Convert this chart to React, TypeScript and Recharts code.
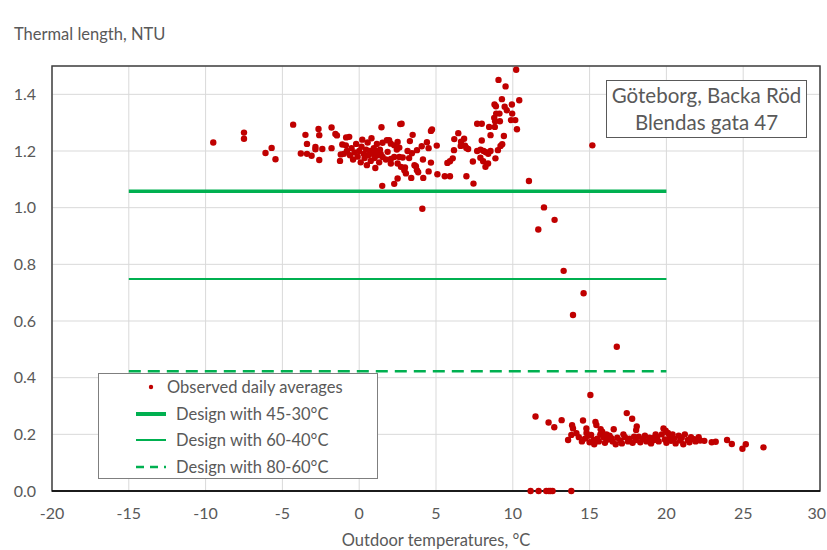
import {
  ComposedChart, Scatter, XAxis, YAxis, CartesianGrid, ReferenceArea, Legend,
} from 'recharts'

// observed daily averages: [outdoor temp °C, NTU]
const coldDays: [number, number][] = [
  [-9.5, 1.23], [-7.5, 1.265], [-7.5, 1.243], [-6.1, 1.193], [-5.7, 1.211], [-5.45, 1.171],
  [-4.3, 1.293], [-3.5, 1.257], [-3.4, 1.225], [-3.8, 1.191], [-3.4, 1.19], [-3.1, 1.183],
  [-2.65, 1.278], [-2.6, 1.256], [-2.85, 1.214], [-2.85, 1.206], [-2.4, 1.207], [-2.6, 1.168],
  [-1.8, 1.283], [-1.55, 1.26], [-1.45, 1.255], [-1.8, 1.21], [-1.2, 1.188], [-1.25, 1.165],
  [-0.85, 1.248], [-0.65, 1.25], [-1.1, 1.223], [-0.87, 1.22],
  [-1.0, 1.19], [-0.8, 1.2], [-0.6, 1.185], [-0.5, 1.21], [-0.4, 1.17], [-0.3, 1.195],
  [-0.2, 1.225], [-0.1, 1.18], [0.0, 1.2], [0.1, 1.16], [0.15, 1.215], [0.2, 1.24],
  [0.3, 1.19], [0.35, 1.175], [0.45, 1.205], [0.5, 1.15], [0.55, 1.23], [0.6, 1.185],
  [0.7, 1.2], [0.75, 1.165], [0.8, 1.245], [0.9, 1.19], [0.95, 1.21], [1.0, 1.175],
  [1.05, 1.14], [1.1, 1.2], [1.15, 1.225], [1.2, 1.185], [1.3, 1.16], [1.35, 1.205],
  [1.4, 1.19], [1.45, 1.284], [1.5, 1.077], [1.52, 1.229], [1.52, 1.179], [1.74, 1.17],
  [1.8, 1.238], [1.85, 1.197], [1.95, 1.238], [2.06, 1.226], [2.06, 1.172], [2.06, 1.156],
  [2.28, 1.22], [2.28, 1.179], [2.28, 1.084], [2.45, 1.205], [2.5, 1.232], [2.5, 1.156],
  [2.5, 1.103], [2.61, 1.212], [2.61, 1.179], [2.67, 1.295], [2.72, 1.144], [2.76, 1.296],
  [2.83, 1.177], [2.94, 1.132], [2.98, 1.142], [3.04, 1.121], [3.15, 1.2], [3.25, 1.175],
  [3.3, 1.235], [3.39, 1.105], [3.43, 1.192], [3.48, 1.257], [3.6, 1.15], [3.69, 1.146],
  [3.76, 1.203], [3.76, 1.132], [3.84, 1.125], [4.07, 1.217], [4.11, 0.996], [4.15, 1.17],
  [4.17, 1.105], [4.41, 1.231], [4.52, 1.21], [4.52, 1.128], [4.67, 1.271], [4.74, 1.276],
  [4.67, 1.159], [5.05, 1.219], [5.09, 1.118],
]

const mildDays: [number, number][] = [
  [5.57, 1.111], [5.91, 1.111], [5.74, 1.158], [5.91, 1.164], [6.09, 1.174], [6.17, 1.203],
  [6.19, 1.242], [6.45, 1.263], [6.63, 1.233], [6.83, 1.243], [6.89, 1.219], [6.98, 1.211],
  [7.09, 1.207], [6.61, 1.218], [6.98, 1.111], [7.4, 1.163], [7.44, 1.085], [7.68, 1.296],
  [7.98, 1.296], [8.46, 1.285], [8.83, 1.285], [7.98, 1.237], [8.55, 1.256], [7.68, 1.2],
  [7.9, 1.205], [8.1, 1.2], [8.25, 1.196], [8.4, 1.19], [8.55, 1.2], [7.89, 1.176],
  [8.07, 1.164], [8.22, 1.144], [8.39, 1.156], [8.87, 1.174], [9.03, 1.203], [9.2, 1.218],
  [9.31, 1.224], [9.42, 1.253], [8.79, 1.317], [8.92, 1.332], [9.13, 1.332], [8.81, 1.364],
  [8.9, 1.358], [9.29, 1.383], [8.85, 1.305], [9.16, 1.305], [9.47, 1.356], [9.61, 1.344],
  [9.07, 1.451], [9.53, 1.428], [10.22, 1.487], [9.94, 1.364], [10.42, 1.379], [9.96, 1.332],
  [9.88, 1.309], [10.16, 1.309], [10.27, 1.277],
]

const transitionDays: [number, number][] = [
  [11.05, 1.094], [12.03, 1.001], [12.72, 0.957], [11.66, 0.923], [13.31, 0.777],
  [14.61, 0.698], [13.92, 0.621], [16.77, 0.509], [15.18, 1.22],
]

const zeroDays: [number, number][] = [
  [11.16, 0], [11.68, 0], [12.18, 0], [12.35, 0], [12.46, 0], [12.59, 0], [13.81, 0],
]

const warmDays: [number, number][] = [
  [15.05, 0.339], [11.48, 0.263], [12.33, 0.242], [12.7, 0.225], [13.18, 0.25], [13.86, 0.232],
  [13.92, 0.221], [14.57, 0.249], [13.6, 0.18], [13.81, 0.198], [14.14, 0.204], [14.79, 0.221],
  [15.38, 0.244], [15.44, 0.233], [15.72, 0.218], [15.82, 0.209], [15.1, 0.198], [15.25, 0.18],
  [15.0, 0.172], [17.42, 0.275], [17.77, 0.255], [18.07, 0.228], [18.03, 0.215], [16.57, 0.218],
  [19.81, 0.221], [19.95, 0.213], [22.47, 0.177], [22.95, 0.172], [23.21, 0.174], [23.95, 0.18],
  [24.26, 0.166], [24.95, 0.149], [25.17, 0.165], [26.32, 0.154],
  [14.3, 0.19], [14.5, 0.175], [14.7, 0.185], [14.9, 0.195], [15.3, 0.165], [15.5, 0.185],
  [15.6, 0.175], [15.9, 0.19], [16.0, 0.17], [16.2, 0.182], [16.3, 0.195], [16.5, 0.175],
  [16.7, 0.165], [16.8, 0.188], [17.0, 0.178], [17.1, 0.168], [17.3, 0.19], [17.5, 0.175],
  [17.6, 0.185], [17.8, 0.17], [18.0, 0.18], [18.2, 0.192], [18.3, 0.172], [18.5, 0.183],
  [18.7, 0.175], [18.9, 0.188], [19.0, 0.168], [19.2, 0.18], [19.4, 0.19], [19.5, 0.175],
  [19.7, 0.2], [19.9, 0.182], [20.0, 0.17], [20.2, 0.19], [20.3, 0.177], [20.5, 0.185],
  [20.6, 0.168], [20.8, 0.195], [20.9, 0.178], [21.0, 0.188], [21.1, 0.165], [21.2, 0.2],
  [21.4, 0.18], [21.5, 0.172], [21.6, 0.19], [21.8, 0.183], [21.9, 0.175], [22.1, 0.19],
  [22.2, 0.178], [20.4, 0.2], [20.1, 0.205], [19.3, 0.2], [18.6, 0.195], [17.2, 0.2],
  [16.1, 0.2], [15.7, 0.2], [14.8, 0.205], [16.4, 0.187], [17.9, 0.192], [19.1, 0.186],
]

// design NTU levels, drawn between these outdoor temps
const designRange = [-15, 20]
const design4530 = 1.058
const design6040 = 0.748
const design8060 = 0.423

const xTicks = [-20, -15, -10, -5, 0, 5, 10, 15, 20, 25, 30]
const yTicks = [0, 0.2, 0.4, 0.6, 0.8, 1.0, 1.2, 1.4]

const GREEN = '#00B050'
const RED = '#C00000'
const TEXT = '#595959'
const FONT = 'Lato, "Open Sans", sans-serif'

const observed = [...coldDays, ...mildDays, ...transitionDays, ...zeroDays, ...warmDays]
  .map(([t, ntu]) => ({ t, ntu }))
const designLine = (v: number) => designRange.map((t) => ({ t, ntu: v }))

const dot = (p: any) => <circle cx={p.cx} cy={p.cy} r={3.2} fill={RED} />
const noDot = () => <g />

// last x label sits at the page edge, keep it inside
const XTick = ({ x, y, payload }: any) => {
  const last = payload.value === xTicks[xTicks.length - 1]
  return (
    <text x={last ? x + 6 : x} y={y} dy={10} textAnchor={last ? 'end' : 'middle'}
      fontSize={16} fill={TEXT} fontFamily={FONT}>
      {payload.value}
    </text>
  )
}

function LegendBox() {
  const row = { display: 'flex', alignItems: 'center', height: 26.5 } as const
  const sample = (style: any) => (
    <svg width={32} height={8} style={{ marginLeft: 36, marginRight: 9 }}>
      <line x1={1} y1={4} x2={31} y2={4} stroke={GREEN} {...style} />
    </svg>
  )
  return (
    <div style={{
      border: '1px solid #7f7f7f', background: '#fff', width: 280, height: 106,
      boxSizing: 'border-box', fontFamily: FONT, fontSize: 16.5, color: TEXT,
    }}>
      <div style={row}>
        <svg width={6} height={6} style={{ marginLeft: 49, marginRight: 13 }}>
          <circle cx={3} cy={3} r={2.2} fill={RED} />
        </svg>
        Observed daily averages
      </div>
      <div style={row}>{sample({ strokeWidth: 4 })}Design with 45-30°C</div>
      <div style={row}>{sample({ strokeWidth: 2 })}Design with 60-40°C</div>
      <div style={row}>{sample({ strokeWidth: 2.5, strokeDasharray: '8 6' })}Design with 80-60°C</div>
    </div>
  )
}

export default function App() {
  return (
    <div style={{ position: 'fixed', left: 0, top: 0, width: 827, height: 550, background: '#fff', fontFamily: FONT }}>
      <div style={{ position: 'absolute', left: 14, top: 24, fontSize: 16.5, color: TEXT }}>
        Thermal length, NTU
      </div>
      <div style={{
        position: 'absolute', left: 606, top: 80, width: 201, height: 58, boxSizing: 'border-box',
        border: '1px solid #595959', background: '#fff', color: TEXT, fontSize: 20.5,
        textAlign: 'center', lineHeight: '27px', paddingTop: 1, zIndex: 2,
      }}>
        Göteborg, Backa Röd<br />Blendas gata 47
      </div>
      <ComposedChart width={827} height={550} margin={{ top: 66, right: 7, bottom: 29, left: 12 }}>
        <CartesianGrid stroke="#d9d9d9" strokeWidth={1} />
        <XAxis
          type="number" dataKey="t" domain={[-20, 30]} ticks={xTicks} interval={0}
          tick={<XTick />} tickLine={false} tickSize={0} tickMargin={18}
          axisLine={{ stroke: '#000', strokeWidth: 1.5 }} height={30}
          label={{ value: 'Outdoor temperatures, °C', position: 'bottom', offset: 13, fontSize: 16.5, fill: TEXT, fontFamily: FONT }}
        />
        <YAxis
          type="number" dataKey="ntu" domain={[0, 1.5]} ticks={yTicks} interval={0}
          tickFormatter={(v: number) => v.toFixed(1)}
          tick={{ fontSize: 16, fill: TEXT, fontFamily: FONT }} tickLine={false} tickSize={0} tickMargin={16}
          axisLine={false} width={40}
        />
        <ReferenceArea x1={-20} x2={30} y1={0} y2={1.5} fill="none" stroke="#404040" strokeWidth={1.5} />
        <Scatter data={designLine(design4530)} line={{ stroke: GREEN, strokeWidth: 3.5 }} shape={noDot} isAnimationActive={false} />
        <Scatter data={designLine(design6040)} line={{ stroke: GREEN, strokeWidth: 2 }} shape={noDot} isAnimationActive={false} />
        <Scatter data={designLine(design8060)} line={{ stroke: GREEN, strokeWidth: 2.5, strokeDasharray: '12 7' }} shape={noDot} isAnimationActive={false} />
        <Scatter data={observed} shape={dot} isAnimationActive={false} />
        <Legend
          layout="vertical" align="center" verticalAlign="middle"
          content={() => <LegendBox />}
          wrapperStyle={{ left: 98, top: 373, width: 280, height: 106 }}
        />
      </ComposedChart>
    </div>
  )
}
